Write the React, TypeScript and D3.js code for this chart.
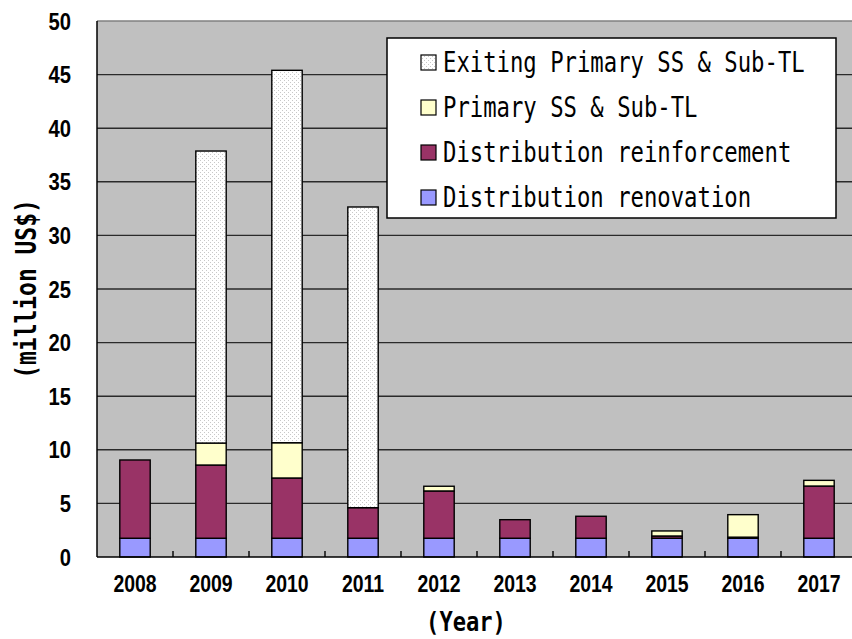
import React from "react";
import * as d3 from "d3";

const years = ["2008","2009","2010","2011","2012","2013","2014","2015","2016","2017"];
const renovation = [1.75,1.75,1.75,1.75,1.75,1.75,1.75,1.75,1.75,1.75];
const reinforcement = [7.3,6.83,5.62,2.85,4.41,1.73,2.05,0.21,0.1,4.87];
const primary = [0,2.05,3.29,0,0.44,0,0,0.47,2.1,0.53];
const existing = [0,27.24,34.74,28.05,0,0,0,0,0,0];
const yTicks = [0,5,10,15,20,25,30,35,40,45,50];
const seriesKeys = ["renovation","reinforcement","primary","existing"];
const legendLabels = ["Exiting Primary SS & Sub-TL","Primary SS & Sub-TL","Distribution reinforcement","Distribution renovation"];
const legendKeys = ["existing","primary","reinforcement","renovation"];

const colors: Record<string,string> = {
  renovation: "#9999FF",
  reinforcement: "#993366",
  primary: "#FFFFCC",
  existing: "url(#dots)",
};

export default function App() {
  const W = 852, H = 639;
  const left = 97, right = 857, top = 21, bottom = 557;
  const x = d3.scaleBand<string>().domain(years).range([left, right]).padding(0);
  const y = d3.scaleLinear().domain([0, 50]).range([bottom, top]);
  const rows = years.map((yr, i) => ({
    year: yr,
    renovation: renovation[i],
    reinforcement: reinforcement[i],
    primary: primary[i],
    existing: existing[i],
  }));
  const stacked = d3.stack<any>().keys(seriesKeys)(rows);
  const bw = x.bandwidth() * 0.4;
  const mono = "'DejaVu Sans Mono', monospace";
  const sans = "'Liberation Sans', Arial, sans-serif";

  return (
    <svg width={W} height={H} style={{ position: "absolute", left: 0, top: 0, background: "#fff" }}>
      <defs>
        <pattern id="dots" width="4" height="4" patternUnits="userSpaceOnUse">
          <rect width="4" height="4" fill="#ffffff" />
          <rect x="0" y="0" width="1" height="1" fill="#c8c8c8" />
          <rect x="2" y="2" width="1" height="1" fill="#c8c8c8" />
        </pattern>
      </defs>
      <rect x={left} y={top} width={right - left} height={bottom - top} fill="#C0C0C0" />
      {yTicks.filter(t => t > 0 && t < 50).map(t => (
        <line key={t} x1={left} x2={right} y1={y(t)} y2={y(t)} stroke="#2a2a2a" strokeWidth={1.4} />
      ))}
      <line x1={left} x2={right} y1={y(50)} y2={y(50)} stroke="#808080" strokeWidth={1.4} />
      {stacked.map(s => (
        <g key={s.key}>
          {s.map((d, i) => {
            const h = y(d[0]) - y(d[1]);
            if (h <= 0.01) return null;
            return (
              <rect key={i} x={(x(years[i]) as number) + (x.bandwidth() - bw) / 2} y={y(d[1])}
                width={bw} height={h} fill={colors[s.key]} stroke="#000" strokeWidth={1.4} />
            );
          })}
        </g>
      ))}
      <line x1={left} x2={left} y1={top} y2={bottom} stroke="#000" strokeWidth={1.5} />
      <line x1={left} x2={right} y1={bottom} y2={bottom} stroke="#000" strokeWidth={1.5} />
      {years.slice(1).map(yr => (
        <line key={yr} x1={x(yr)} x2={x(yr)} y1={bottom} y2={bottom - 6} stroke="#000" strokeWidth={1.4} />
      ))}
      {yTicks.map(t => (
        <text key={t} transform={`translate(71,${y(t) + 8.5}) scale(0.86,1)`} textAnchor="end"
          fontFamily={sans} fontWeight="bold" fontSize={23.5} fill="#000">{t}</text>
      ))}
      {years.map(yr => (
        <text key={yr} transform={`translate(${(x(yr) as number) + x.bandwidth() / 2},${592}) scale(0.81,1)`}
          textAnchor="middle" fontFamily={sans} fontWeight="bold" fontSize={24} fill="#000">{yr}</text>
      ))}
      <text transform={`translate(466,631) scale(0.85,1)`} textAnchor="middle" fontFamily={mono}
        fontWeight="bold" fontSize={26} fill="#000">(Year)</text>
      <text transform={`translate(36,289) rotate(-90) scale(0.82,1)`} textAnchor="middle" fontFamily={mono}
        fontWeight="bold" fontSize={28} fill="#000">(million US$)</text>
      <rect x={387} y={38} width={449} height={180} fill="#fff" stroke="#000" strokeWidth={1.5} />
      {legendKeys.map((k, i) => {
        const cy = 62 + i * 45;
        return (
          <g key={k}>
            <rect x={421} y={cy - 7} width={15} height={15} fill={colors[k]} stroke="#000" strokeWidth={1.2} />
            <text transform={`translate(443,${cy + 10}) scale(0.795,1)`} fontFamily={mono}
              fontSize={28} fill="#000">{legendLabels[i]}</text>
          </g>
        );
      })}
    </svg>
  );
}
